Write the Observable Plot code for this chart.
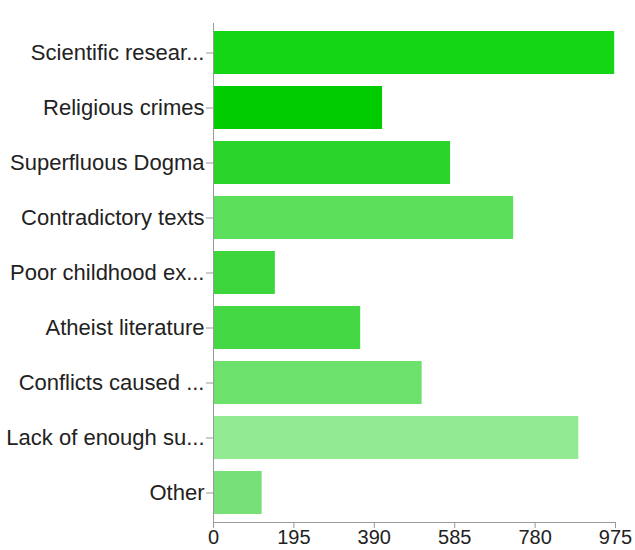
<!DOCTYPE html>
<html>
<head>
<meta charset="utf-8">
<script src="https://cdn.jsdelivr.net/npm/d3@7"></script>
<script src="https://cdn.jsdelivr.net/npm/@observablehq/plot@0.6"></script>
<style>
  html, body { margin: 0; padding: 0; background: #fff; }
  #chart svg { overflow: visible; display: block; }
</style>
</head>
<body>
<div id="chart"></div>
<script>
const categories = [
  "Scientific resear...",
  "Religious crimes",
  "Superfluous Dogma",
  "Contradictory texts",
  "Poor childhood ex...",
  "Atheist literature",
  "Conflicts caused ...",
  "Lack of enough su...",
  "Other"
];
const values = [973, 410, 575, 728, 150, 357, 506, 886, 118];
const colors = ["#14d614", "#00cc00", "#2ad42a", "#5ce05c", "#3cd63c", "#44d844", "#6ce26c", "#92ea92", "#78e078"];
const xTicks = [0, 195, 390, 585, 780, 975];

const data = categories.map((c, i) => ({category: c, value: values[i], color: colors[i]}));

const chart = Plot.plot({
  width: 635,
  height: 550,
  marginLeft: 213,
  marginRight: 20,
  marginTop: 23,
  marginBottom: 28,
  style: {fontFamily: "'Liberation Sans', Arial, Helvetica, sans-serif", fontSize: "22px", color: "#222", background: "#fff"},
  x: {domain: [0, 975], ticks: xTicks, label: null},
  y: {domain: categories, label: null, paddingInner: 0.22, paddingOuter: 0.11},
  marks: [
    Plot.barX(data, {x: "value", y: "category", fill: "color"}),
    Plot.ruleX([0], {stroke: "#999", strokeWidth: 1}),
    Plot.frame({anchor: "bottom", stroke: "#999"}),
    Plot.axisY({tickSize: 7, tickPadding: 2, stroke: "#999", fontSize: 22, fill: "#222"}),
    Plot.axisX({ticks: xTicks, tickSize: 6, tickPadding: 1, stroke: "#999", fontSize: 20, fill: "#222", tickFormat: d => String(d)})
  ]
});
document.getElementById("chart").appendChild(chart);
</script>
</body>
</html>
